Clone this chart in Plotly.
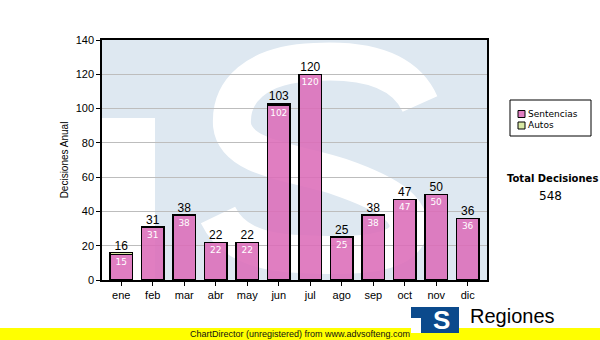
import plotly.graph_objects as go

meses = ["ene", "feb", "mar", "abr", "may", "jun", "jul", "ago", "sep", "oct", "nov", "dic"]
sentencias = [15, 31, 38, 22, 22, 102, 120, 25, 38, 47, 50, 36]
autos = [1, 0, 0, 0, 0, 1, 0, 0, 0, 0, 0, 0]
totales = [s + a for s, a in zip(sentencias, autos)]
total_decisiones = sum(totales)
y_ticks = [0, 20, 40, 60, 80, 100, 120, 140]
series_names = ["Sentencias", "Autos"]
series_colors = ["rgba(220,108,184,0.88)", "#d9e9a4"]

# plot area in pixels
L, R, T, B = 102, 487, 40, 280
W, H = 600, 340


def px(x, y):
    return (x - L) / (R - L), (B - y) / (B - T)


def path(pts, cmds):
    s = ""
    i = 0
    for c in cmds:
        if c in ("M", "L"):
            x, y = px(*pts[i]); i += 1
            s += f"{c} {x:.4f},{y:.4f} "
        elif c == "C":
            s += "C "
            for _ in range(3):
                x, y = px(*pts[i]); i += 1
                s += f"{x:.4f},{y:.4f} "
    return s


def rect(xa, ya, xb, yb, fill, layer="above", line=None):
    p0 = px(xa, ya)
    p1 = px(xb, yb)
    return dict(type="rect", xref="paper", yref="paper", x0=p0[0], x1=p1[0], y0=p1[1], y1=p0[1],
                fillcolor=fill, line=line or dict(width=0), layer=layer)


fig = go.Figure()
fig.add_trace(go.Bar(
    x=meses, y=sentencias, name=series_names[0],
    marker=dict(color=series_colors[0], line=dict(color="black", width=1.5)),
    text=[str(v) for v in sentencias], textposition="inside", insidetextanchor="end",
    textfont=dict(color="white", size=9, family="DejaVu Sans"), textangle=0,
    constraintext="none", cliponaxis=False, showlegend=False,
))
fig.add_trace(go.Bar(
    x=meses, y=autos, name=series_names[1],
    marker=dict(color=series_colors[1], line=dict(color="black", width=1.5)),
    hoverinfo="skip", showlegend=False,
))
fig.add_trace(go.Scatter(
    x=meses, y=totales, mode="text", text=[str(v) for v in totales],
    textposition="top center", textfont=dict(color="black", size=12, family="Liberation Sans, Arial"),
    showlegend=False, cliponaxis=False,
))

shapes = []
# watermark: white lower-left block of the "T"
shapes.append(rect(L, 118, 155, B, "white", layer="below"))
# watermark: white "S" as thick stroke
s_pts = [(420, 104),
         (402, 64), (352, 60), (315, 62),
         (255, 64), (230, 92), (232, 125),
         (236, 160), (300, 163), (340, 177),
         (395, 196), (412, 212), (408, 232),
         (400, 258), (340, 256), (300, 254),
         (255, 252), (230, 240), (218, 215)]
shapes.append(dict(type="path", xref="paper", yref="paper",
                   path=path(s_pts, ["M", "C", "C", "C", "C", "C", "C"]),
                   line=dict(color="white", width=38), layer="below"))
# footer yellow band
shapes.append(rect(0, 328, W, H, "#ffff00"))
# logo square
shapes.append(rect(411, 307, 459, 333, "#0b4a8c"))
shapes.append(rect(411, 318, 421, 333, "white"))

# manual legend
shapes.append(rect(510, 100, 591, 136, "white", line=dict(color="black", width=1)))
annotations = []
for i, (nm, col) in enumerate(zip(series_names, series_colors)):
    yy = 114 + i * 11.5
    shapes.append(rect(518, yy - 3.5, 525, yy + 3.5, col, line=dict(color="black", width=1)))
    lx, ly = px(526, yy)
    annotations.append(dict(x=lx, y=ly, xref="paper", yref="paper", showarrow=False, text=nm,
                            font=dict(size=9, color="black", family="DejaVu Sans"),
                            xanchor="left", yanchor="middle"))

ax, ay = px(300, 334)
annotations.append(dict(x=ax, y=ay, xref="paper", yref="paper", showarrow=False,
                        text="ChartDirector (unregistered) from www.advsofteng.com",
                        font=dict(size=9, color="#111", family="Liberation Sans, Arial"),
                        xanchor="center", yanchor="middle"))
sx, sy = px(441, 320)
annotations.append(dict(x=sx, y=sy, xref="paper", yref="paper", showarrow=False, text="<b>S</b>",
                        font=dict(size=26, color="white", family="Liberation Sans, Arial"),
                        xanchor="center", yanchor="middle"))
rx, ry = px(468, 316)
annotations.append(dict(x=rx, y=ry, xref="paper", yref="paper", showarrow=False, text="Regiones",
                        font=dict(size=20, color="black", family="Liberation Sans, Arial"),
                        xanchor="left", yanchor="middle"))
tx, ty = px(552, 178)
annotations.append(dict(x=tx, y=ty, xref="paper", yref="paper", showarrow=False, text="<b>Total Decisiones</b>",
                        font=dict(size=10, color="black", family="DejaVu Sans"),
                        xanchor="center", yanchor="middle"))
nx, ny = px(550, 196)
annotations.append(dict(x=nx, y=ny, xref="paper", yref="paper", showarrow=False, text=str(total_decisiones),
                        font=dict(size=12, color="black", family="DejaVu Sans"),
                        xanchor="center", yanchor="middle"))

fig.update_layout(
    width=W, height=H,
    margin=dict(l=L, r=W - R, t=T, b=H - B, pad=0, autoexpand=False),
    paper_bgcolor="white", plot_bgcolor="#dee8f1",
    barmode="stack", bargap=0.28,
    font=dict(family="Liberation Sans, Arial", size=11, color="black"),
    showlegend=False,
    shapes=shapes, annotations=annotations,
)
fig.update_xaxes(showline=True, linecolor="black", linewidth=1.5, mirror=True,
                 ticks="outside", ticklen=4, tickcolor="black", showgrid=False,
                 tickfont=dict(size=11))
fig.update_yaxes(range=[0, 140], tickvals=y_ticks, showline=True, linecolor="black", linewidth=1.5,
                 mirror=True, ticks="outside", ticklen=4, tickcolor="black",
                 showgrid=True, gridcolor="#bdbdbd", gridwidth=1, zeroline=False,
                 tickfont=dict(size=11),
                 title=dict(text="Decisiones Anual", font=dict(size=10), standoff=5))

fig.write_html("out.html")
